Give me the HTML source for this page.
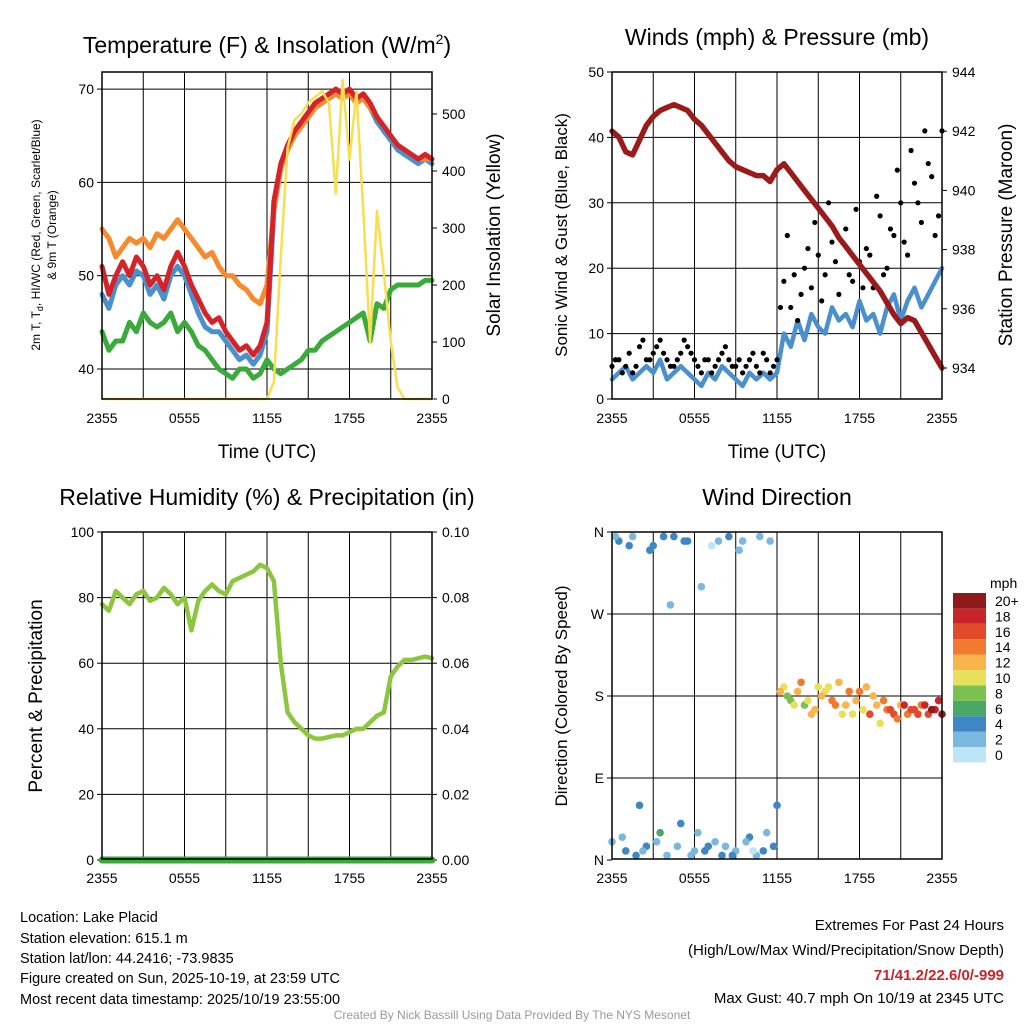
<!DOCTYPE html>
<html><head><meta charset="utf-8"><style>
body{margin:0;background:#fff;}
svg{display:block;font-family:"Liberation Sans",sans-serif;}
</style></head><body>
<svg id="fig" width="1024" height="1024" viewBox="0 0 1024 1024">
<g id="p1"></g>
<g id="p2"></g>
<g id="p3"></g>
<g id="p4"></g>
<text x="267" y="53" font-size="23" text-anchor="middle">Temperature (F) &amp; Insolation (W/m<tspan dy="-9" font-size="14">2</tspan><tspan dy="9">)</tspan></text>
<text x="777" y="45" font-size="23" text-anchor="middle">Winds (mph) &amp; Pressure (mb)</text>
<text x="267" y="505" font-size="23" text-anchor="middle">Relative Humidity (%) &amp; Precipitation (in)</text>
<text x="777" y="505" font-size="23" text-anchor="middle">Wind Direction</text>
<text transform="translate(40,235) rotate(-90)" font-size="12" text-anchor="middle">2m T, T<tspan dy="3" font-size="9">d</tspan><tspan dy="-3">, HI/WC (Red, Green, Scarlet/Blue)</tspan></text>
<text transform="translate(56,235) rotate(-90)" font-size="12" text-anchor="middle">&amp; 9m T (Orange)</text>
<text transform="translate(500,235) rotate(-90)" font-size="19" text-anchor="middle">Solar Insolation (Yellow)</text>
<text x="267" y="458" font-size="19" text-anchor="middle">Time (UTC)</text>
<text transform="translate(567,235) rotate(-90)" font-size="17" text-anchor="middle">Sonic Wind &amp; Gust (Blue, Black)</text>
<text transform="translate(1012,235) rotate(-90)" font-size="19" text-anchor="middle">Station Pressure (Maroon)</text>
<text x="777" y="458" font-size="19" text-anchor="middle">Time (UTC)</text>
<text transform="translate(42,696) rotate(-90)" font-size="19" text-anchor="middle">Percent &amp; Precipitation</text>
<text transform="translate(567,696) rotate(-90)" font-size="17" text-anchor="middle">Direction (Colored By Speed)</text>
<g font-size="14.5">
<text x="20" y="922">Location: Lake Placid</text>
<text x="20" y="943">Station elevation: 615.1 m</text>
<text x="20" y="963">Station lat/lon: 44.2416; -73.9835</text>
<text x="20" y="983">Figure created on Sun, 2025-10-19, at 23:59 UTC</text>
<text x="20" y="1004">Most recent data timestamp: 2025/10/19 23:55:00</text>
</g>
<g font-size="15" text-anchor="end">
<text x="1004" y="930">Extremes For Past 24 Hours</text>
<text x="1004" y="955">(High/Low/Max Wind/Precipitation/Snow Depth)</text>
<text x="1004" y="980" fill="#c8252a" font-weight="bold">71/41.2/22.6/0/-999</text>
<text x="1004" y="1003">Max Gust: 40.7 mph On 10/19 at 2345 UTC</text>
</g>
<text x="512" y="1019" font-size="12" fill="#999" text-anchor="middle">Created By Nick Bassill Using Data Provided By The NYS Mesonet</text>
</svg>
<script>
const timeLabels=["2355","0555","1155","1755","2355"];
const tempRed=[51,48,50,51.5,50,52,51,49,50,48.5,51,52.5,51,49,47.5,46,45,45.5,44,43,42,42.5,41.5,42.5,45,58,62,64,65.5,66.5,67.5,68.5,69,69.5,70,69.5,70,69,69.5,68.5,67,66,65,64,63.5,63,62.5,63,62.5];
const temp9m=[55,54,52,53,54,53.5,54,53,54.5,54,55,56,55,54,53,52,52.5,51,50,50,49,48.5,47.5,47,49,57,61.5,63.5,65,66,67,68,68.5,69,69.5,69,69.5,68.5,69,68,67,66,65,64,63.5,63,62.5,62.5,62.5];
const heatIdx=[48,46.5,49,50,49,50.5,50,48,49,47.5,50,51,50,48,46,44.5,44,44,43,42,41,41.5,40.5,41.5,44,57,61.5,63.5,65,66,67,68,68.5,69,69.5,69,69.5,68.5,69,68,66.5,65.5,64.5,63.5,63,62.5,62,62.5,62];
const dewpt=[44,42,43,43,45,44,46,45,44.5,45,46,44,45,44,42.5,42,41,40,39.5,39,40,40,39,39.5,41,40,39.5,40,40.5,41,42,42,43,43.5,44,44.5,45,45.5,46,43,47,46.5,48.5,49,49,49,49,49.5,49.5];
const solar=[0,0,0,0,0,0,0,0,0,0,0,0,0,0,0,0,0,0,0,0,0,0,0,0,0,30,250,440,490,500,520,530,540,520,360,560,420,540,330,100,330,220,100,20,0,0,0,0,0];
const windSpd=[3,4,5,3,4,5,4,6,3,4,5,4,3,2,4,3,5,4,3,2,4,3,4,3,4,10,8,12,9,13,11,10,14,12,13,11,15,12,13,10,14,16,12,15,17,14,16,18,20];
const gust=[5,6,5,4,8,6,7,9,6,5,7,8,6,4,6,5,7,6,5,4,6,5,7,4,6,18,14,12,20,17,22,19,24,16,26,18,21,23,17,28,20,25,30,22,33,27,36,25,41];
const gust2=[6,4,7,5,9,6,8,7,5,6,9,7,5,6,4,6,8,5,6,5,7,4,6,5,14,25,19,16,23,27,15,30,21,24,19,29,17,22,31,19,26,35,24,38,30,41,34,28];
const pressure=[942,941.8,941.3,941.2,941.7,942.2,942.5,942.7,942.8,942.9,942.8,942.7,942.4,942.2,941.9,941.6,941.3,941,940.8,940.7,940.6,940.5,940.5,940.3,940.7,940.9,940.6,940.3,940,939.7,939.4,939.1,938.8,938.4,938.1,937.8,937.5,937.2,936.9,936.6,936.2,935.8,935.5,935.7,935.6,935.2,934.8,934.4,934];
const rh=[78,76,82,80,78,81,82,79,80,83,81,78,80,70,79,82,84,82,81,85,86,87,88,90,89,85,60,45,42,40,38,37,37,37.5,38,38,39,40,40,42,44,45,56,59,61,61,61.5,62,61.5];
const precip=[0,0,0,0,0,0,0,0,0,0,0,0,0,0,0,0,0,0,0,0,0,0,0,0,0,0,0,0,0,0,0,0,0,0,0,0,0,0,0,0,0,0,0,0,0,0,0,0,0];
const windDir=[20,350,10,355,60,15,345,30,5,355,40,350,10,300,15,20,5,355,10,350,25,5,10,350,60,190,175,185,170,160,190,185,175,195,170,160,185,190,180,150,165,160,170,160,165,170,160,165,160];
const windDir2=[355,25,345,5,10,340,20,355,280,15,350,5,30,10,345,350,15,5,340,20,10,355,30,15,185,180,170,195,175,165,180,190,170,160,185,175,165,160,170,175,165,155,170,165,160,170,165,175];
const windSpd2=[3,2,4,5,3,4,2,5,3,3,4,2,3,5,1,3,2,4,3,2,1,3,2,4,12,9,11,14,10,12,13,11,15,10,14,12,11,16,13,15,17,14,18,16,17,19,21,18];
const tempTicks=[40,50,60,70];
const solarTicks=[0,100,200,300,400,500];
const windTicks=[0,10,20,30,40,50];
const presTicks=[934,936,938,940,942,944];
const rhTicks=[0,20,40,60,80,100];
const precipTicks=["0.00","0.02","0.04","0.06","0.08","0.10"];
const dirLabels=["N","E","S","W","N"];
const cbLabels=["0","2","4","6","8","10","12","14","16","18","20+"];
const cbColors=["#bde4f7","#7ab8e0","#3f86c4","#4aa866","#7cc050","#e6e05a","#f9b44b","#f07a30","#e34a2a","#c8252a","#8e1a1a"];

const NS="http://www.w3.org/2000/svg";
function mk(parent,tag,attrs){const e=document.createElementNS(NS,tag);for(const k in attrs)e.setAttribute(k,attrs[k]);parent.appendChild(e);return e;}
function panel(g,x0,y0){
  const W=330,H=327;
  const xs=i=>x0+i/48*W;
  for(let k=0;k<=8;k++){const l=mk(g,"line",{x1:x0+k*W/8,x2:x0+k*W/8,y1:y0,y2:y0+H,stroke:"#000","stroke-width":1});
    }
  timeLabels.forEach((t,k)=>{const e=mk(g,"text",{x:x0+k*W/4,y:y0+H+24,"font-size":14,"text-anchor":"middle"});e.textContent=t;
    });
  return {xs,W,H};
}
function hgrid(g,x0,W,y,lab,side,x1,y0,H){
  if(y>y0+1&&y<y0+H-1){const l=mk(g,"line",{x1:x0,x2:x0+W,y1:y,y2:y,stroke:"#000","stroke-width":1});
  }
  const t=mk(g,"text",{x:side==="l"?x0-8:x0+W+10,y:y+5,"font-size":14,"text-anchor":side==="l"?"end":"start"});t.textContent=lab;
  
}
function tick(g,x,y,dx){const l=mk(g,"line",{x1:x,x2:x+dx,y1:y,y2:y,stroke:"#000","stroke-width":1});}
function line(g,arr,xs,ys,color,w,name){
  const d=arr.map((v,i)=>(i?"L":"M")+xs(i).toFixed(1)+","+ys(v).toFixed(1)).join("");
  const p=mk(g,"path",{d,fill:"none",stroke:color,"stroke-width":w,"stroke-linejoin":"round","stroke-linecap":"round"});
  return p;
}
function frame(g,x0,y0,W,H){const r=mk(g,"rect",{x:x0,y:y0,width:W,height:H,fill:"none",stroke:"#000","stroke-width":1.5});}

// Panel 1
(function(){
  const g=document.getElementById("p1"),x0=102,y0=72;
  const {xs,W,H}=panel(g,x0,y0);
  const yT=v=>369-(v-40)*9.33, yS=v=>399-v*0.57;
  tempTicks.forEach(v=>{hgrid(g,x0,W,yT(v),String(v),"l",0,y0,H);tick(g,x0,yT(v),-5);});
  solarTicks.forEach(v=>{const t=mk(g,"text",{x:x0+W+10,y:yS(v)+5,"font-size":14});t.textContent=v;
    tick(g,x0+W,yS(v),5);});
  line(g,heatIdx,xs,yT,"#4a90cf",5,"heat-index-line");
  line(g,temp9m,xs,yT,"#f58a2e",5,"temp-9m-line");
  line(g,tempRed,xs,yT,"#d4242a",5,"temp-2m-line");
  line(g,dewpt,xs,yT,"#3aaa3a",5,"dewpoint-line");
  line(g,solar,xs,yS,"#f7df4f",2.5,"solar-line");
  frame(g,x0,y0,W,H);
})();
// Panel 2
(function(){
  const g=document.getElementById("p2"),x0=612,y0=72;
  const {xs,W,H}=panel(g,x0,y0);
  const yW=v=>399-v*6.54, yP=v=>368-(v-934)*29.6;
  windTicks.forEach(v=>{hgrid(g,x0,W,yW(v),String(v),"l",0,y0,H);tick(g,x0,yW(v),-5);});
  presTicks.forEach(v=>{const t=mk(g,"text",{x:x0+W+10,y:yP(v)+5,"font-size":14});t.textContent=v;
    tick(g,x0+W,yP(v),5);});
  line(g,windSpd,xs,yW,"#4a90cf",4.5,"wind-speed-line");
  gust.forEach((v,i)=>{const c=mk(g,"circle",{cx:xs(i),cy:yW(v),r:2.6,fill:"#000"});
    });
  gust2.forEach((v,i)=>{const c=mk(g,"circle",{cx:xs(i+0.5),cy:yW(v),r:2.6,fill:"#000"});
    });
  line(g,pressure,xs,yP,"#9b1b1b",5.5,"pressure-line");
  frame(g,x0,y0,W,H);
})();
// Panel 3
(function(){
  const g=document.getElementById("p3"),x0=102,y0=532;
  const {xs,W,H}=panel(g,x0,y0);
  const yR=v=>860-v*3.28, yPr=v=>860-v*3280;
  rhTicks.forEach(v=>{hgrid(g,x0,W,yR(v),String(v),"l",0,y0,H);tick(g,x0,yR(v),-5);});
  precipTicks.forEach(v=>{const t=mk(g,"text",{x:x0+W+10,y:yPr(+v)+5,"font-size":14});t.textContent=v;
    tick(g,x0+W,yPr(+v),5);});
  line(g,rh,xs,yR,"#8cc63f",4.5,"humidity-line");
  line(g,precip,xs,yPr,"#3aaa3a",7,"precip-line");
  frame(g,x0,y0,W,H);
})();
// Panel 4
(function(){
  const g=document.getElementById("p4"),x0=612,y0=532;
  const {xs,W,H}=panel(g,x0,y0);
  const yD=v=>860-v/360*328;
  dirLabels.forEach((l,k)=>{hgrid(g,x0,W,yD(k*90),l,"l",0,y0,H);tick(g,x0,yD(k*90),-5);});
  windDir.forEach((v,i)=>{const b=Math.min(10,Math.floor(windSpd[i]/2));
    const c=mk(g,"circle",{cx:xs(i),cy:yD(v),r:3.8,fill:cbColors[b]});
    });
  windDir2.forEach((v,i)=>{const b=Math.min(10,Math.floor(windSpd2[i]/2));
    const c=mk(g,"circle",{cx:xs(i+0.5),cy:yD(v),r:3.8,fill:cbColors[b]});
    });
  frame(g,x0,y0,W,H);
  const cb=mk(g,"g",{});
  const t=mk(cb,"text",{x:990,y:588,"font-size":14});t.textContent="mph";
  cbColors.forEach((c,k)=>{const y=747-k*15.4;mk(cb,"rect",{x:953,y,width:33,height:15.4,fill:c});
    const tl=mk(cb,"text",{x:995,y:y+13,"font-size":14});tl.textContent=cbLabels[k];
    });
})();
</script>
</body></html>
